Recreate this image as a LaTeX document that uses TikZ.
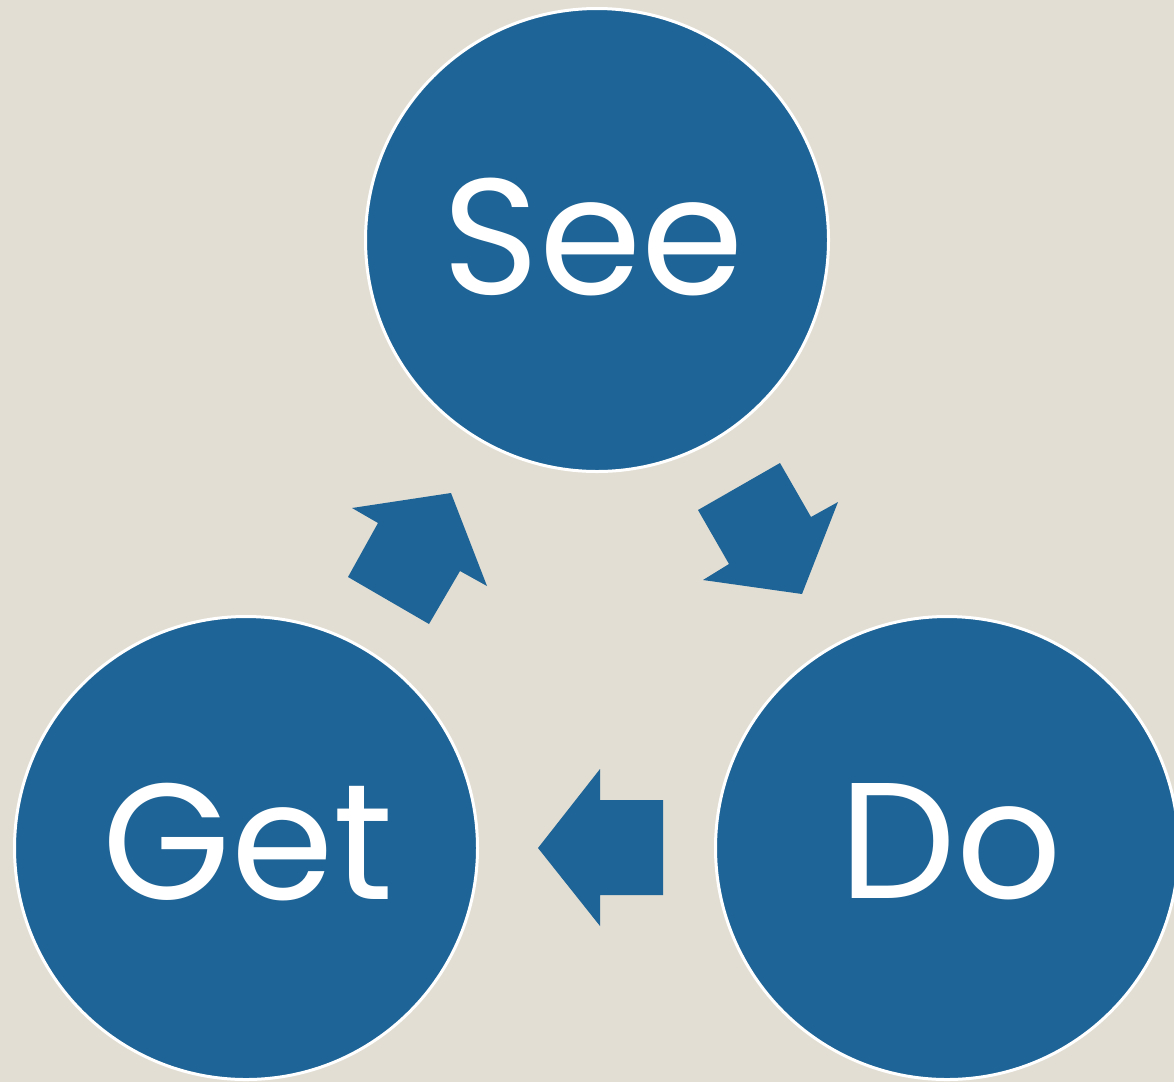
\documentclass[tikz,border=0pt]{standalone}
\usepackage{fontspec}
\setmainfont{Poppins}
\definecolor{bg}{HTML}{E3DED3}
\definecolor{blu}{HTML}{1E6496}
\begin{document}
\begin{tikzpicture}[x=1pt,y=-1pt,
  bubble/.style={circle,fill=blu,draw=white,line width=3pt,minimum size=463pt,inner sep=0pt},
  word/.style={anchor=base,inner sep=0pt,text=white,font=\fontsize{165}{165}\selectfont},
  blockarrow/.style={fill=blu,draw=none}]
\fill[bg] (0,0) rectangle (1174,1082);
\useasboundingbox (0,0) rectangle (1174,1082);
\begin{scope}
\clip (0,0) rectangle (1174,1082);
\node[bubble] (see) at (597,240) {};
\node[bubble] (get) at (246,848) {};
\node[bubble] (do) at (947,848) {};
\end{scope}
\node[word] (tsee) at (593,294) {See};
\node[word] (tget) at (248,899) {Get};
\node[word] (tdo) at (951,898) {Do};
\fill[blockarrow] (352,508) -- (451,493) -- (487,586) -- (460,571) -- (429,624) -- (348,577) -- (378,523) -- cycle;
\fill[blockarrow] (698,510) -- (780,463) -- (811,517) -- (838,502) -- (802,594) -- (703,580) -- (729,564) -- cycle;
\fill[blockarrow] (538,848) -- (600,769) -- (600,800) -- (663,800) -- (663,895) -- (600,895) -- (600,926) -- cycle;
\end{tikzpicture}
\end{document}
